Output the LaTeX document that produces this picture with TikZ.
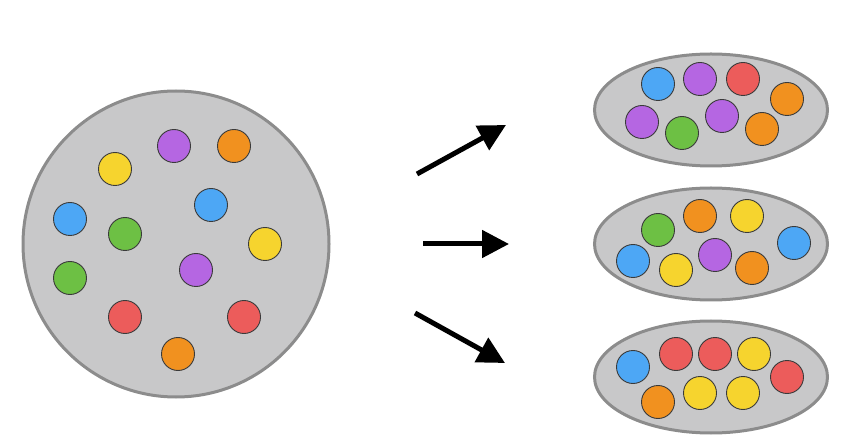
\documentclass[tikz,border=0pt]{standalone}
\usetikzlibrary{arrows.meta,shapes.geometric}
\definecolor{PoolFill}{HTML}{C8C8C9}
\definecolor{PoolLine}{HTML}{8C8C8C}
\definecolor{DotLine}{HTML}{3A3A3A}
\definecolor{Blue}{HTML}{4DA7F5}
\definecolor{Purple}{HTML}{B566E2}
\definecolor{Red}{HTML}{EC5C5B}
\definecolor{Orange}{HTML}{F1911F}
\definecolor{Yellow}{HTML}{F6D42E}
\definecolor{Green}{HTML}{6DC044}
\tikzset{>={Triangle[length=27pt,width=27pt]},
 pool/.style={circle,draw=PoolLine,fill=PoolFill,line width=3pt,inner sep=0pt,minimum size=306pt},
 group/.style={ellipse,draw=PoolLine,fill=PoolFill,line width=3pt,inner sep=0pt,
 minimum width=233pt,minimum height=112pt},
 dot/.style={circle,draw=DotLine,line width=.9pt,inner sep=0pt,minimum size=33pt},
 split/.style={->,line width=5pt}}

\begin{document}
\begin{tikzpicture}[x=1pt,y=-1pt]
\useasboundingbox (0,0) rectangle (846,438);
\node[pool] (all) at (176,244) {};
\node[group] (g1) at (711,110) {};
\node[group] (g2) at (711,244) {};
\node[group] (g3) at (711,377) {};
% balls in the pool
\foreach \x/\y/\c [count=\i] in {174/146/Purple,234/146/Orange,115/169/Yellow,
 211/205/Blue,70/219/Blue,125/234/Green,265/244/Yellow,196/270/Purple,
 70/278/Green,125/317/Red,244/317/Red,178/354/Orange}
 \node[dot,fill=\c] (p\i) at (\x,\y) {};
% balls in the three groups
\foreach \x/\y/\c [count=\i] in {658/84/Blue,700/79/Purple,743/79/Red,787/99/Orange,
 642/122/Purple,682/133/Green,722/116/Purple,762/129/Orange}
 \node[dot,fill=\c] (a\i) at (\x,\y) {};
\foreach \x/\y/\c [count=\i] in {658/230/Green,700/216/Orange,747/216/Yellow,794/243/Blue,
 633/261/Blue,676/270/Yellow,715/255/Purple,752/268/Orange}
 \node[dot,fill=\c] (b\i) at (\x,\y) {};
\foreach \x/\y/\c [count=\i] in {633/367/Blue,676/354/Red,715/354/Red,754/354/Yellow,
 787/377/Red,658/402/Orange,700/393/Yellow,743/393/Yellow}
 \node[dot,fill=\c] (c\i) at (\x,\y) {};
% arrows
\coordinate (s1) at (417,174); \coordinate (t1) at (506,125);
\coordinate (s2) at (423,244); \coordinate (t2) at (509,244);
\coordinate (s3) at (415,313); \coordinate (t3) at (505,363);
\draw[split] (s1)--(t1);
\draw[split] (s2)--(t2);
\draw[split] (s3)--(t3);
\end{tikzpicture}
\end{document}
